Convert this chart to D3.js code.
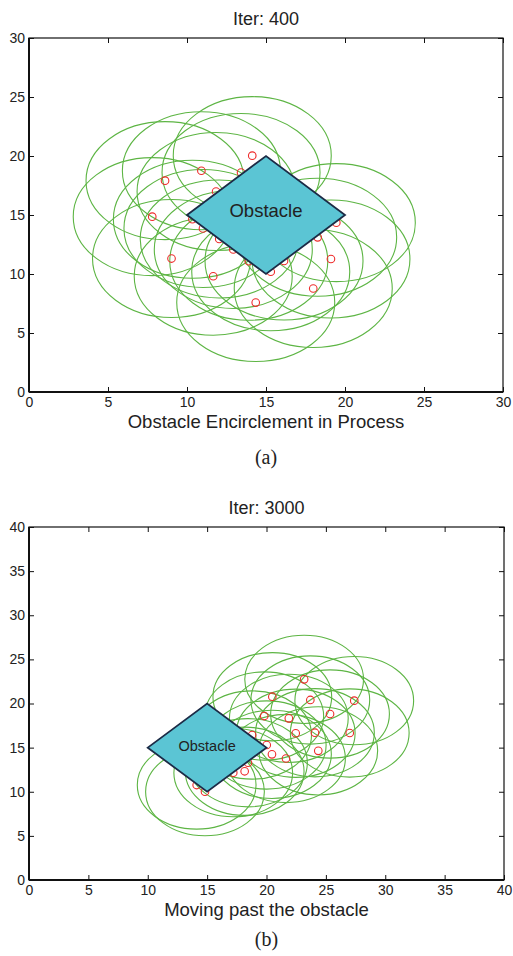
<!DOCTYPE html>
<html>
<head>
<meta charset="utf-8">
<script src="https://cdn.jsdelivr.net/npm/d3@7"></script>
<style>
  html, body { margin: 0; padding: 0; background: #fff; }
  svg { display: block; }
</style>
</head>
<body>
<script>
// ---------------- DATA ----------------
const panelTitles = ["Iter: 400", "Iter: 3000"];
const panelXLabels = ["Obstacle Encirclement in Process", "Moving past the obstacle"];
const panelCaptions = ["(a)", "(b)"];
const panelMax = [30, 40];
const ticksA = [0, 5, 10, 15, 20, 25, 30];
const ticksB = [0, 5, 10, 15, 20, 25, 30, 35, 40];

const obstacleX = [10, 15, 20, 15];
const obstacleY = [15, 20, 15, 10];
const obstacleLabel = "Obstacle";
const obstacleLabelPosA = [15, 15.42];
const obstacleLabelPosB = [15, 15.13];

const sensingRadius = 5;

const agentsAx = [14.13, 10.91, 8.61, 13.42, 11.84, 7.80, 10.34, 11.01, 12.04, 12.93,
                  13.91, 15.30, 16.14, 18.27, 19.45, 9.02, 11.66, 19.11, 17.99, 14.35];
const agentsAy = [20.03, 18.75, 17.91, 18.60, 16.99, 14.86, 14.64, 13.86, 12.97, 12.08,
                  11.08, 10.19, 11.10, 13.11, 14.35, 11.31, 9.81, 11.27, 8.77, 7.58];

const agentsBx = [23.17, 20.49, 23.69, 27.39, 19.81, 21.88, 25.35, 22.46, 24.08, 27.01,
                  18.79, 20.02, 20.46, 21.64, 24.36, 18.44, 18.16, 17.20, 14.12, 14.82];
const agentsBy = [22.74, 20.77, 20.40, 20.32, 18.58, 18.32, 18.81, 16.63, 16.69, 16.66,
                  16.43, 15.30, 14.24, 13.77, 14.64, 13.29, 12.32, 12.16, 10.76, 10.01];

// ---------------- LAYOUT ----------------
const W = 513, H = 956;
const font = "'Liberation Sans', Arial, Helvetica, sans-serif";
const serif = "'Liberation Serif', 'Times New Roman', serif";

const panels = [
  { title: panelTitles[0], xlabel: panelXLabels[0], caption: panelCaptions[0], max: panelMax[0],
    ticks: ticksA, ax: agentsAx, ay: agentsAy, labelPos: obstacleLabelPosA, labelSize: 18.5,
    box: { l: 29, r: 503, t: 38, b: 392 }, titleY: 25, xlabelY: 428, captionY: 464 },
  { title: panelTitles[1], xlabel: panelXLabels[1], caption: panelCaptions[1], max: panelMax[1],
    ticks: ticksB, ax: agentsBx, ay: agentsBy, labelPos: obstacleLabelPosB, labelSize: 14.5,
    box: { l: 29, r: 504, t: 527, b: 880 }, titleY: 514, xlabelY: 916, captionY: 946 }
];

const svg = d3.select("body").append("svg")
  .attr("width", W).attr("height", H)
  .attr("viewBox", `0 0 ${W} ${H}`);

panels.forEach((p, i) => {
  const x = d3.scaleLinear().domain([0, p.max]).range([p.box.l, p.box.r]);
  const y = d3.scaleLinear().domain([0, p.max]).range([p.box.b, p.box.t]);
  const g = svg.append("g");
  const cx = (p.box.l + p.box.r) / 2;

  const clipId = "clip" + i;
  g.append("clipPath").attr("id", clipId).append("rect")
    .attr("x", p.box.l).attr("y", p.box.t)
    .attr("width", p.box.r - p.box.l).attr("height", p.box.b - p.box.t);

  const plot = g.append("g").attr("clip-path", `url(#${clipId})`);

  const agents = p.ax.map((v, k) => ({ x: v, y: p.ay[k] }));
  const rx = x(sensingRadius) - x(0);
  const ry = y(0) - y(sensingRadius);

  // sensing ranges
  plot.selectAll("ellipse.range").data(agents).enter().append("ellipse")
    .attr("class", "range")
    .attr("cx", d => x(d.x)).attr("cy", d => y(d.y))
    .attr("rx", rx).attr("ry", ry)
    .attr("fill", "none").attr("stroke", "#5db544").attr("stroke-width", 1.1);

  // agents
  plot.selectAll("circle.agent").data(agents).enter().append("circle")
    .attr("class", "agent")
    .attr("cx", d => x(d.x)).attr("cy", d => y(d.y))
    .attr("r", 3.8)
    .attr("fill", "none").attr("stroke", "#ee2b2b").attr("stroke-width", 1.1);

  // obstacle
  const obs = obstacleX.map((v, k) => [x(v), y(obstacleY[k])]);
  plot.append("polygon")
    .attr("points", obs.map(d => d.join(",")).join(" "))
    .attr("fill", "#5bc5d4").attr("stroke", "#1c2b46").attr("stroke-width", 1.8)
    .attr("stroke-linejoin", "miter");

  plot.append("text")
    .attr("x", x(p.labelPos[0])).attr("y", y(p.labelPos[1]))
    .attr("text-anchor", "middle").attr("dominant-baseline", "central")
    .attr("font-family", font).attr("font-size", p.labelSize).attr("fill", "#222")
    .text(obstacleLabel);

  // axes box
  const tickLen = 5;
  g.append("rect")
    .attr("x", p.box.l).attr("y", p.box.t)
    .attr("width", p.box.r - p.box.l).attr("height", p.box.b - p.box.t)
    .attr("fill", "none").attr("stroke", "#111").attr("stroke-width", 1.2);
  g.append("line").attr("x1", p.box.l).attr("x2", p.box.l).attr("y1", p.box.t).attr("y2", p.box.b)
    .attr("stroke", "#111").attr("stroke-width", 2);
  g.append("line").attr("x1", p.box.l).attr("x2", p.box.r).attr("y1", p.box.b).attr("y2", p.box.b)
    .attr("stroke", "#111").attr("stroke-width", 2);

  // axes via d3 (inward ticks)
  const xAxis = d3.axisBottom(x).tickValues(p.ticks).tickSize(-tickLen).tickPadding(5).tickFormat(d3.format("d"));
  const yAxis = d3.axisLeft(y).tickValues(p.ticks).tickSize(-tickLen).tickPadding(4).tickFormat(d3.format("d"));
  const xTop = d3.axisTop(x).tickValues(p.ticks).tickSize(-tickLen).tickFormat("");
  const yRight = d3.axisRight(y).tickValues(p.ticks).tickSize(-tickLen).tickFormat("");

  const styleAxis = sel => {
    sel.select(".domain").remove();
    sel.selectAll(".tick line").attr("stroke", "#111").attr("stroke-width", 1);
    sel.selectAll(".tick text").attr("fill", "#222").attr("font-family", font).attr("font-size", 14);
  };
  g.append("g").attr("transform", `translate(0,${p.box.b})`).call(xAxis).call(styleAxis);
  g.append("g").attr("transform", `translate(${p.box.l},0)`).call(yAxis).call(styleAxis);
  g.append("g").attr("transform", `translate(0,${p.box.t})`).call(xTop).call(styleAxis);
  g.append("g").attr("transform", `translate(${p.box.r},0)`).call(yRight).call(styleAxis);

  // titles and labels
  g.append("text").attr("x", cx).attr("y", p.titleY).attr("text-anchor", "middle")
    .attr("font-family", font).attr("font-size", 18).attr("fill", "#222").text(p.title);
  g.append("text").attr("x", cx).attr("y", p.xlabelY).attr("text-anchor", "middle")
    .attr("font-family", font).attr("font-size", 18.5).attr("fill", "#222").text(p.xlabel);
  g.append("text").attr("x", cx).attr("y", p.captionY).attr("text-anchor", "middle")
    .attr("font-family", serif).attr("font-size", 20).attr("fill", "#222").text(p.caption);
});
</script>
</body>
</html>
